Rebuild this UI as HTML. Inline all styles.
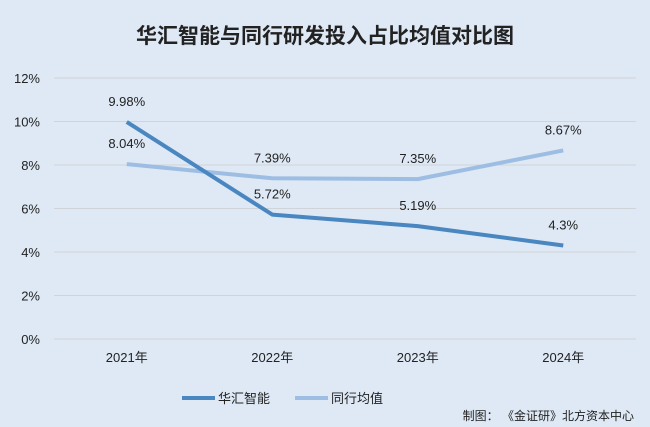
<!DOCTYPE html>
<html><head><meta charset="utf-8"><style>
body{margin:0;width:650px;height:427px;background:#dee9f5;overflow:hidden}
svg{display:block;font-family:"Liberation Sans","Noto Sans CJK SC",sans-serif}
</style></head><body>
<svg id="c" width="650" height="427">
<rect width="650" height="427" fill="#dee9f5"/>
<text x="325" y="43" text-anchor="middle" font-size="21" font-weight="bold" fill="#222">华汇智能与同行研发投入占比均值对比图</text>
<g id="grid"></g><g id="series"></g>
<g>
<line x1="182" y1="398" x2="215" y2="398" stroke="#4a86c0" stroke-width="4"/>
<text x="218" y="403" font-size="13" fill="#222">华汇智能</text>
<line x1="295" y1="398" x2="328" y2="398" stroke="#9dbde3" stroke-width="4"/>
<text x="331" y="403" font-size="13" fill="#222">同行均值</text>
</g>
<text x="634" y="420" text-anchor="end" font-size="12" fill="#222">制图： 《金证研》北方资本中心</text>
</svg>
<script>
const categories=["2021年","2022年","2023年","2024年"];
const huahui=[9.98,5.72,5.19,4.3];
const huahuiLabels=["9.98%","5.72%","5.19%","4.3%"];
const peer=[8.04,7.39,7.35,8.67];
const peerLabels=["8.04%","7.39%","7.35%","8.67%"];
const ticks=[0,2,4,6,8,10,12];
const NS="http://www.w3.org/2000/svg";
const x0=54,x1=636,y0=339,y12=78;
const xs=i=>x0+(x1-x0)/categories.length*(i+0.5);
const ys=v=>y0-(y0-y12)*v/12;
function mk(t,a,p){const e=document.createElementNS(NS,t);for(const k in a)e.setAttribute(k,a[k]);p.appendChild(e);return e;}
const g=document.getElementById('grid'),s=document.getElementById('series');
ticks.forEach(t=>{
const l=mk('line',{x1:x0,x2:x1,y1:ys(t),y2:ys(t),stroke:'#d0d4d8','stroke-width':1},g);


const tx=mk('text',{x:40,y:ys(t)+5,'text-anchor':'end','font-size':13,fill:'#222'},g);
tx.textContent=t+'%';


});
categories.forEach((c,i)=>{
const tx=mk('text',{x:xs(i),y:362,'text-anchor':'middle','font-size':13,fill:'#222'},g);
tx.textContent=c;


});
function series(vals,labels,color,name){
const p=mk('polyline',{points:vals.map((v,i)=>xs(i)+','+ys(v)).join(' '),fill:'none',stroke:color,'stroke-width':4,'stroke-linejoin':'round'},s);


vals.forEach((v,i)=>{
const t=mk('text',{x:xs(i),y:ys(v)-16,'text-anchor':'middle','font-size':13,fill:'#222'},s);
t.textContent=labels[i];


});
}
series(peer,peerLabels,'#9dbde3','peer');
series(huahui,huahuiLabels,'#4a86c0','huahui');
</script>
</body></html>
